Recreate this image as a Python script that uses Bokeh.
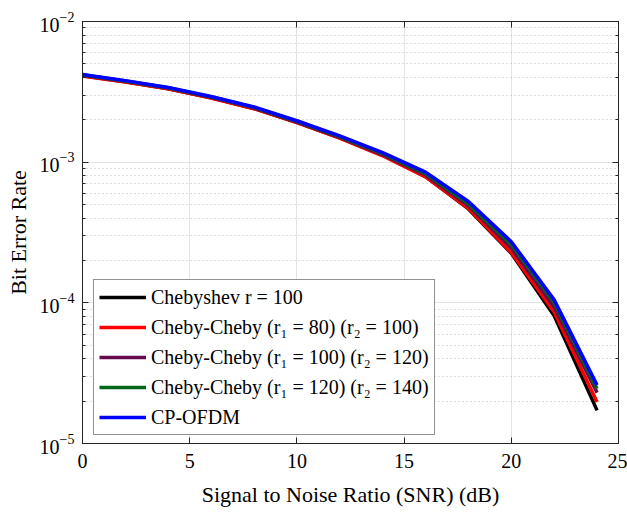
from bokeh.plotting import figure
from bokeh.models import (Legend, LegendItem, LinearAxis, LogAxis, FixedTicker, Range1d,
                          LogTicker, CustomJSTickFormatter)
from bokeh.embed import file_html
from bokeh.resources import INLINE

snr = [0, 2, 4, 6, 8, 10, 12, 14, 16, 18, 20, 22, 24]
ber_cheb100 = [4.12e-3, 3.73e-3, 3.33e-3, 2.87e-3, 2.41e-3, 1.92e-3, 1.49e-3, 1.12e-3, 7.9e-4, 4.65e-4, 2.25e-4, 8.1e-5, 1.72e-5]
ber_cc_80_100 = [4.1e-3, 3.72e-3, 3.32e-3, 2.86e-3, 2.4e-3, 1.91e-3, 1.48e-3, 1.11e-3, 7.85e-4, 4.7e-4, 2.28e-4, 8.6e-5, 1.97e-5]
ber_cc_100_120 = [4.15e-3, 3.76e-3, 3.36e-3, 2.89e-3, 2.43e-3, 1.93e-3, 1.5e-3, 1.13e-3, 8.1e-4, 4.9e-4, 2.45e-4, 9.3e-5, 2.3e-5]
ber_cc_120_140 = [4.18e-3, 3.78e-3, 3.38e-3, 2.91e-3, 2.45e-3, 1.95e-3, 1.52e-3, 1.15e-3, 8.3e-4, 5.05e-4, 2.6e-4, 1.0e-4, 2.45e-5]
ber_cpofdm = [4.2e-3, 3.8e-3, 3.4e-3, 2.93e-3, 2.47e-3, 1.97e-3, 1.54e-3, 1.17e-3, 8.5e-4, 5.25e-4, 2.72e-4, 1.05e-4, 2.6e-5]

labels = [
    "Chebyshev r = 100",
    "Cheby-Cheby (r\u2081 = 80) (r\u2082 = 100)",
    "Cheby-Cheby (r\u2081 = 100) (r\u2082 = 120)",
    "Cheby-Cheby (r\u2081 = 120) (r\u2082 = 140)",
    "CP-OFDM",
]
colors = ["#000000", "#ff0000", "#660a4d", "#006619", "#0000ff"]
series = [ber_cheb100, ber_cc_80_100, ber_cc_100_120, ber_cc_120_140, ber_cpofdm]
x_ticks = [0, 5, 10, 15, 20, 25]

FONT = "Liberation Serif"
AX = "#262626"

p = figure(width=627, height=513, y_axis_type="log",
           x_range=Range1d(0, 25), y_range=Range1d(1e-5, 1e-2),
           output_backend="svg", toolbar_location=None,
           min_border_left=82, min_border_right=9, min_border_top=21, min_border_bottom=70)
p.background_fill_color = "white"
p.border_fill_color = "white"
p.outline_line_color = AX
p.outline_line_width = 1

renderers = []
for ys, c in zip(series, colors):
    r = p.line(snr, ys, line_color=c, line_width=3.5)
    renderers.append(r)

# axes
p.xaxis.ticker = FixedTicker(ticks=x_ticks)
for ax in [p.xaxis[0], p.yaxis[0]]:
    ax.axis_line_color = AX
    ax.major_tick_line_color = AX
    ax.minor_tick_line_color = AX
    ax.major_tick_in = 6
    ax.major_tick_out = 0
    ax.minor_tick_in = 3
    ax.minor_tick_out = 0
    ax.major_label_text_font = FONT
    ax.major_label_text_font_size = "20px"
    ax.major_label_text_color = "black"
    ax.axis_label_text_font = FONT
    ax.axis_label_text_font_size = "22px"
    ax.axis_label_text_font_style = "normal"
    ax.axis_label_text_color = "black"
p.xaxis.minor_tick_line_color = None
p.xaxis.axis_label = "Signal to Noise Ratio (SNR) (dB)"
p.yaxis.axis_label = "Bit Error Rate"
p.xaxis.major_label_standoff = 10
p.xaxis.axis_label_standoff = 11
p.yaxis.major_label_standoff = 8
p.yaxis.axis_label_standoff = 6

top = LinearAxis(ticker=FixedTicker(ticks=x_ticks), formatter=CustomJSTickFormatter(code="return ''"),
                 major_label_standoff=0, major_label_text_font_size="1px",
                 major_tick_in=6, major_tick_out=0,
                 minor_tick_line_color=None, axis_line_color=AX, major_tick_line_color=AX)
right = LogAxis(ticker=LogTicker(), formatter=CustomJSTickFormatter(code="return ''"),
                major_label_standoff=0, major_label_text_font_size="1px",
                major_tick_in=6, major_tick_out=0, minor_tick_in=3, minor_tick_out=0,
                axis_line_color=AX, major_tick_line_color=AX, minor_tick_line_color=AX)
p.add_layout(top, "above")
p.add_layout(right, "right")

# grids
p.xgrid.grid_line_color = "#e3e3e3"
p.xgrid.grid_line_width = 1
p.ygrid.grid_line_color = "#e3e3e3"
p.ygrid.grid_line_width = 1
p.ygrid.minor_grid_line_color = "#bdbdbd"
p.ygrid.minor_grid_line_dash = "1 3"
p.ygrid.minor_grid_line_width = 1

legend = Legend(items=[LegendItem(label=l, renderers=[r]) for l, r in zip(labels, renderers)],
                location=(11, 8))
legend.label_text_font = FONT
legend.label_text_font_size = "20px"
legend.label_text_color = "black"
legend.glyph_width = 47
legend.glyph_height = 24
legend.label_height = 24
legend.label_standoff = 5
legend.padding = 5
legend.spacing = 6
legend.margin = 0
legend.border_line_color = AX
legend.border_line_width = 1
legend.background_fill_color = "white"
legend.background_fill_alpha = 1
p.add_layout(legend, "center")

open("out.html", "w").write(file_html(p, INLINE))
